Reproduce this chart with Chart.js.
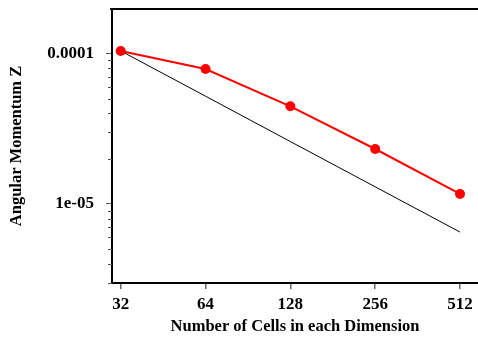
<!DOCTYPE html>
<html>
<head>
<meta charset="utf-8">
<script src="https://cdn.jsdelivr.net/npm/chart.js@4/dist/chart.umd.min.js"></script>
<style>
  html, body { margin: 0; padding: 0; background: #fff; }
  #wrap { width: 478px; height: 339px; }
</style>
</head>
<body>
<div id="wrap"><canvas id="c" width="478" height="339"></canvas></div>
<script>
// Grid resolution (cells per dimension) and the measured angular momentum
const cells = [32, 64, 128, 256, 512];
const angMomZ = [1.042e-4, 7.9e-5, 4.46e-5, 2.32e-5, 1.166e-5];
// First-order reference slope starting from the coarsest run
const firstOrder = [1.042e-4, 5.21e-5, 2.6e-5, 1.3e-5, 6.5e-6];

// Axis ticks
const xTicks = [32, 64, 128, 256, 512];
const yMajor = [1e-5, 1e-4];
const yMinor = [3e-6, 4e-6, 5e-6, 6e-6, 7e-6, 8e-6, 9e-6,
                2e-5, 3e-5, 4e-5, 5e-5, 6e-5, 7e-5, 8e-5, 9e-5];

const serif = '"Liberation Serif", "Times New Roman", Times, serif';

const toPoints = (ys) => cells.map((x, i) => ({ x: x, y: ys[i] }));

// Keep the plot box fixed: no extra room reserved for overhanging labels
const noOverhang = (scale) => {
  scale.paddingLeft = 0;
  scale.paddingRight = 0;
  scale.paddingTop = 0;
  scale.paddingBottom = 0;
};

// Extra frame pieces: short minor ticks on the y axis and the top edge
const framePlugin = {
  id: 'frame',
  afterDraw(chart) {
    const { ctx, chartArea, scales } = chart;
    const y = scales.y;
    ctx.save();
    ctx.strokeStyle = '#555';
    ctx.lineWidth = 1;
    yMinor.forEach(v => {
      const py = Math.round(y.getPixelForValue(v)) + 0.5;
      ctx.beginPath();
      ctx.moveTo(chartArea.left - 4, py);
      ctx.lineTo(chartArea.left, py);
      ctx.stroke();
    });
    ctx.strokeStyle = '#000';
    ctx.lineWidth = 2;
    ctx.beginPath();
    ctx.moveTo(chartArea.left - 2, chartArea.top);
    ctx.lineTo(chartArea.right, chartArea.top);
    ctx.stroke();
    ctx.restore();
  }
};

new Chart(document.getElementById('c'), {
  type: 'line',
  data: {
    datasets: [
      {
        data: toPoints(angMomZ),
        borderColor: '#ff0000',
        backgroundColor: '#ff0000',
        borderWidth: 2,
        pointRadius: 5,
        pointBorderWidth: 0,
        pointBackgroundColor: '#ff0000'
      },
      {
        data: toPoints(firstOrder),
        borderColor: '#000',
        borderWidth: 1,
        pointRadius: 0
      }
    ]
  },
  options: {
    responsive: false,
    animation: false,
    devicePixelRatio: 1,
    layout: { autoPadding: false, padding: { top: 9, right: 0, left: 0, bottom: 0 } },
    plugins: { legend: { display: false }, tooltip: { enabled: false } },
    scales: {
      x: {
        type: 'logarithmic',
        min: 29.8,
        max: 593,
        afterBuildTicks(scale) { scale.ticks = xTicks.map(v => ({ value: v })); },
        afterFit(scale) { scale.height = 56; noOverhang(scale); },
        ticks: {
          autoSkip: false,
          maxRotation: 0,
          padding: 5,
          color: '#000',
          font: { family: serif, size: 17, weight: 'bold' },
          callback: (v) => String(v)
        },
        grid: { drawOnChartArea: false, drawTicks: true, tickLength: 6, color: '#666', lineWidth: 1.5 },
        border: { display: true, color: '#000', width: 2 },
        title: {
          display: true,
          text: 'Number of Cells in each Dimension',
          color: '#000',
          font: { family: serif, size: 16.5, weight: 'bold' },
          padding: { top: 0, bottom: 2 }
        }
      },
      y: {
        type: 'logarithmic',
        min: 2.98e-6,
        max: 1.98e-4,
        afterBuildTicks(scale) { scale.ticks = yMajor.map(v => ({ value: v })); },
        afterFit(scale) { scale.width = 112; noOverhang(scale); },
        ticks: {
          autoSkip: false,
          padding: 12,
          color: '#000',
          font: { family: serif, size: 17, weight: 'bold' },
          callback: (v) => (v >= 1e-4 ? '0.0001' : '1e-05')
        },
        grid: { drawOnChartArea: false, drawTicks: true, tickLength: 6, color: '#555', lineWidth: 1 },
        border: { display: true, color: '#000', width: 2 },
        title: {
          display: true,
          text: 'Angular Momentum Z',
          color: '#000',
          font: { family: serif, size: 16.5, weight: 'bold' },
          padding: { top: 7, bottom: 0 }
        }
      }
    }
  },
  plugins: [framePlugin]
});
</script>
</body>
</html>
